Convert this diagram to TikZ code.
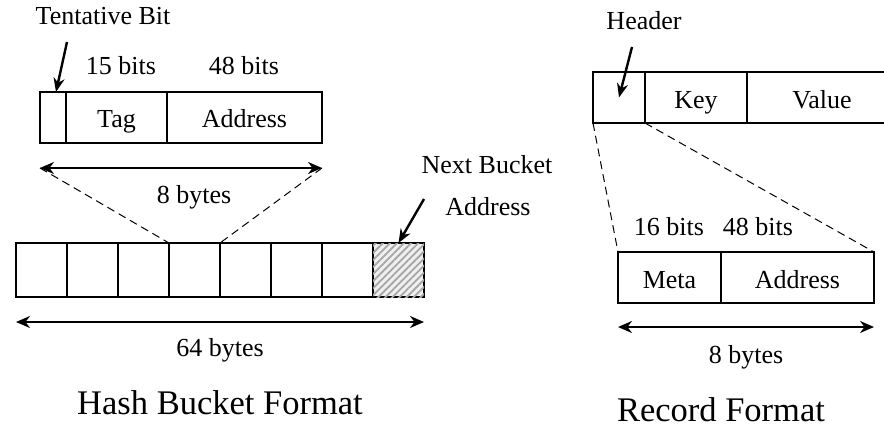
\documentclass[tikz,border=0pt]{standalone}
\usepackage{fontspec}
\setmainfont{Liberation Serif}
\usetikzlibrary{arrows.meta,patterns.meta}
\begin{document}
\begin{tikzpicture}[x=1pt,y=-1pt,
 cell/.style={draw, line width=1.2pt, inner sep=0pt, outer sep=0pt, anchor=north west, text height=21pt, text depth=0pt, font=\fontsize{26}{30}\selectfont},
 lbl/.style={inner sep=0pt, anchor=base, font=\fontsize{26}{30}\selectfont},
 ttl/.style={inner sep=0pt, anchor=base, font=\fontsize{34.5}{40}\selectfont},
 dim/.style={line width=2pt, {Stealth[length=14pt,width=12pt]}-{Stealth[length=14pt,width=12pt]}},
 pointer/.style={line width=2.4pt, -{Stealth[length=14pt,width=11pt]}},
 zoomline/.style={dash pattern=on 8pt off 5pt, line width=1pt},
 hatch/.style={fill=gray!12, postaction={pattern={Lines[angle=45,distance=5pt,line width=1.8pt]}, pattern color=gray!70}}]
\useasboundingbox (0,0) rectangle (884,428);

% ---------- Hash entry (top left) ----------
\node[cell, minimum width=26, minimum height=51] (tb) at (40,92) {};
\node[cell, minimum width=101, minimum height=51] (tag) at (tb.north east) {Tag};
\node[cell, minimum width=155, minimum height=51] (addr) at (tag.north east) {Address};
\node[lbl] (tentl) at (103,25) {Tentative Bit};
\node[lbl] (b15) at (121,75) {15 bits};
\node[lbl] (b48) at (244,75) {48 bits};
\coordinate (tbs) at (67,42);
\draw[pointer] (tbs) -- ([xshift=3pt]tb.north);

\coordinate (d1l) at (40,168);
\coordinate (d1r) at (322,168);
\draw[dim] (d1l) -- (d1r);
\node[lbl] (eight1) at (194,203) {8 bytes};

% ---------- Hash bucket ----------
\node[cell, minimum width=51, minimum height=54] (c1) at (16,243) {};
\node[cell, minimum width=51, minimum height=54] (c2) at (c1.north east) {};
\node[cell, minimum width=51, minimum height=54] (c3) at (c2.north east) {};
\node[cell, minimum width=51, minimum height=54] (c4) at (c3.north east) {};
\node[cell, minimum width=51, minimum height=54] (c5) at (c4.north east) {};
\node[cell, minimum width=51, minimum height=54] (c6) at (c5.north east) {};
\node[cell, minimum width=51, minimum height=54] (c7) at (c6.north east) {};
\node[cell, hatch, minimum width=51, minimum height=54] (c8) at (c7.north east) {};

\draw[zoomline] (d1l) -- (c4.north west);
\draw[zoomline] (d1r) -- (c4.north east);

\node[lbl] (nb1) at (487,173) {Next Bucket};
\node[lbl] (nb2) at (488,215) {Address};
\coordinate (nbs) at (424,199);
\draw[pointer] (nbs) -- (c8.north);

\coordinate (d2l) at (16,322);
\coordinate (d2r) at (424,322);
\draw[dim] (d2l) -- (d2r);
\node[lbl] (sixtyfour) at (220,356) {64 bytes};
\node[ttl] (hbf) at (220,414) {Hash Bucket Format};

% ---------- Record ----------
\node[cell, minimum width=52, minimum height=51] (hdr) at (593,72) {};
\node[cell, minimum width=102, minimum height=51] (key) at (hdr.north east) {Key};
\node[cell, minimum width=150, minimum height=51] (val) at (key.north east) {Value};
\node[lbl] (hdrl) at (644,30) {Header};
\coordinate (hs) at (632,47);
\draw[pointer] (hs) -- (hdr.center);

\node[cell, minimum width=103, minimum height=51] (meta) at (618,252) {Meta};
\node[cell, minimum width=153, minimum height=51] (maddr) at (meta.north east) {Address};
\node[lbl] (b16) at (669,235) {16 bits};
\node[lbl] (b48r) at (758,235) {48 bits};

\draw[zoomline] (hdr.south west) -- (meta.north west);
\draw[zoomline] (hdr.south east) -- (maddr.north east);

\coordinate (d3l) at (618,327);
\coordinate (d3r) at (874,327);
\draw[dim] (d3l) -- (d3r);
\node[lbl] (eight2) at (746,363) {8 bytes};
\node[ttl] (rf) at (721,421) {Record Format};
\end{tikzpicture}
\end{document}
